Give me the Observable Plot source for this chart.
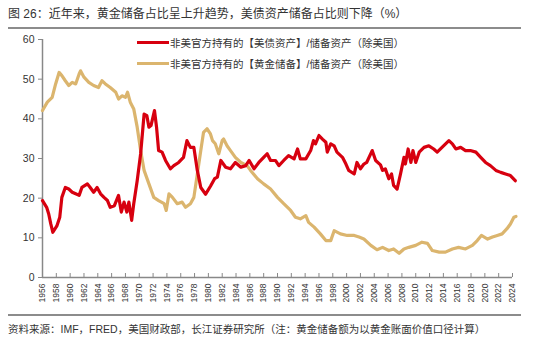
<!DOCTYPE html>
<html><head><meta charset="utf-8">
<script src="https://cdn.jsdelivr.net/npm/d3@7"></script>
<script src="https://cdn.jsdelivr.net/npm/@observablehq/plot@0.6"></script>
<style>
body{margin:0;background:#fff;}
#wrap{position:relative;width:535px;height:338px;overflow:hidden;font-family:"Liberation Sans","Noto Sans CJK SC",sans-serif;color:#333;}
#title{position:absolute;left:8px;top:6px;font-size:12px;white-space:nowrap;line-height:16px;}
#trule{position:absolute;left:8px;top:27px;width:513px;height:2px;background:#8c8c8c;}
#chart{position:absolute;left:0;top:30px;}
#legend{position:absolute;left:137px;top:32px;font-size:10.5px;}
.li{display:flex;align-items:center;height:21px;white-space:nowrap;}
.sw{width:32px;height:3px;margin-right:1px;}
#frule{position:absolute;left:8px;top:314px;width:513px;height:1.5px;background:#8c8c8c;}
#source{position:absolute;left:8px;top:322px;font-size:10.5px;white-space:nowrap;line-height:15px;}
</style>
</head><body>
<div id="wrap">
<div id="title">图 26：近年来，黄金储备占比呈上升趋势，美债资产储备占比则下降（%）</div>
<div id="trule"></div>
<div id="chart"></div>
<div id="legend"></div>
<div id="frule"></div>
<div id="source">资料来源：IMF，FRED，美国财政部，长江证券研究所（注：黄金储备额为以黄金账面价值口径计算）</div>
</div>
<script>
const seriesNames = ["非美官方持有的【美债资产】/储备资产（除美国）", "非美官方持有的【黄金储备】/储备资产（除美国）"];
const seriesColors = ["#d7000f", "#dbb56e"];
const xTicks = d3.range(1956, 2025, 2);
const yTicks = [0, 10, 20, 30, 40, 50, 60];

const redYears = [1956.0,1956.6,1956.9,1957.2,1957.5,1958.1,1958.5,1958.8,1959.3,1959.8,1960.3,1960.8,1961.3,1961.7,1962.5,1962.9,1963.4,1963.9,1964.4,1964.9,1965.4,1965.8,1966.4,1967.0,1967.4,1967.8,1968.2,1968.5,1968.9,1969.2,1969.7,1970.2,1970.7,1971.1,1971.4,1971.7,1972.2,1972.5,1972.8,1973.3,1973.8,1974.5,1975.0,1975.7,1976.4,1976.9,1977.4,1977.9,1978.4,1978.9,1979.6,1980.3,1980.9,1981.3,1981.8,1982.5,1983.2,1983.9,1984.7,1985.4,1985.9,1986.6,1987.3,1988.0,1988.5,1989.0,1989.7,1990.2,1990.9,1991.6,1992.4,1992.9,1993.3,1994.1,1994.8,1995.2,1995.5,1996.0,1996.5,1997.0,1997.2,1997.7,1998.2,1998.6,1999.4,1999.9,2000.3,2001.1,2001.5,2002.0,2002.5,2002.9,2003.7,2004.2,2004.9,2005.2,2005.6,2006.1,2006.5,2006.8,2007.3,2007.8,2008.3,2008.5,2008.9,2009.3,2009.6,2010.0,2010.5,2011.2,2011.9,2012.6,2013.1,2013.8,2014.8,2015.3,2015.8,2016.5,2017.2,2017.9,2018.7,2019.4,2020.1,2020.8,2021.6,2022.3,2023.0,2023.7,2024.4];
const redValues = [19.4,17.7,16.0,13.5,11.4,13.1,15.2,20.2,22.7,22.3,21.5,21.1,20.7,22.7,23.6,22.7,21.5,22.7,21.1,20.2,19.4,17.7,18.1,20.7,16.5,19.0,16.5,19.0,14.4,18.6,24.4,31.2,41.2,40.8,37.9,38.3,42.1,37.9,32.0,31.6,29.5,27.4,28.2,29.0,30.3,34.5,32.8,32.8,27.0,22.7,21.0,23.0,24.9,25.3,29.5,27.8,27.4,29.0,27.8,28.2,29.5,27.4,29.0,30.3,31.2,29.5,29.5,28.2,29.5,30.7,29.9,32.4,29.9,29.9,32.0,34.5,33.7,35.8,34.9,34.1,31.6,33.7,33.2,31.6,30.3,28.6,27.0,26.1,29.0,27.4,28.6,29.0,32.0,29.5,28.4,27.0,27.4,24.9,26.1,23.2,22.3,26.1,30.3,28.6,32.4,29.0,32.0,29.0,31.6,32.8,33.2,32.4,31.6,32.8,34.5,33.7,32.4,32.8,32.0,32.0,31.6,30.3,29.0,28.2,27.0,26.5,26.1,25.7,24.4];

const goldYears = [1956.0,1956.7,1957.4,1957.9,1958.4,1958.8,1959.3,1959.8,1960.3,1960.8,1961.3,1961.5,1962.0,1962.7,1963.4,1964.1,1964.6,1965.1,1965.8,1966.6,1967.0,1967.5,1968.0,1968.3,1968.7,1969.2,1969.7,1970.2,1970.7,1971.4,1972.1,1972.8,1973.6,1973.9,1974.3,1974.8,1975.5,1976.2,1976.7,1977.4,1977.9,1978.4,1978.9,1979.3,1979.8,1980.3,1980.6,1981.0,1981.5,1982.0,1982.2,1982.7,1983.2,1983.9,1984.7,1985.6,1986.1,1987.1,1988.0,1989.0,1990.0,1990.9,1991.9,1992.6,1993.3,1994.1,1994.5,1995.3,1996.2,1997.0,1997.7,1998.2,1999.1,2000.1,2001.1,2001.8,2002.5,2003.5,2004.4,2005.2,2006.1,2006.8,2007.6,2008.3,2009.0,2010.0,2010.9,2011.7,2012.4,2013.4,2014.3,2015.3,2016.2,2017.2,2018.2,2018.9,2019.5,2020.4,2021.1,2021.8,2022.5,2023.2,2023.7,2024.2,2024.5];
const goldValues = [42.1,44.2,45.4,48.8,51.7,50.9,49.6,48.4,49.2,48.8,51.3,52.1,50.5,49.2,48.4,47.9,49.6,48.8,47.9,46.7,45.0,45.8,45.4,46.7,44.2,42.5,37.9,32.0,27.0,23.6,20.2,19.4,18.6,16.9,21.1,20.2,18.6,19.0,17.7,18.6,20.2,26.1,32.0,36.6,37.5,36.2,34.5,33.7,31.2,34.5,34.9,33.2,32.0,30.3,29.0,28.2,27.0,24.9,23.6,22.3,20.2,18.6,16.9,15.2,14.8,15.6,13.9,12.7,11.0,9.3,9.3,11.8,11.0,10.6,10.6,10.2,9.7,8.1,7.0,7.6,6.8,7.2,6.1,7.2,7.6,8.1,8.9,8.6,6.8,6.4,6.4,7.2,7.6,7.2,8.1,9.3,10.6,9.7,10.2,10.6,11.0,12.3,13.5,15.2,15.4];

const redRows = redYears.map((y, i) => ({year: y, value: redValues[i]}));
const goldRows = goldYears.map((y, i) => ({year: y, value: goldValues[i]}));

const plot = Plot.plot({
  width: 535, height: 285,
  marginTop: 9, marginBottom: 38, marginLeft: 42, marginRight: 23,
  x: {domain: [xTicks[0], xTicks[xTicks.length - 1]]},
  y: {domain: [yTicks[0], yTicks[yTicks.length - 1]]},
  style: {fontFamily: "Liberation Sans, Noto Sans CJK SC, sans-serif", color: "#333", background: "transparent"},
  marks: [
    Plot.axisY({ticks: yTicks, tickSize: 4, tickPadding: 4, fontSize: 10.5, label: null, stroke: "#888", fill: "#333"}),
    Plot.axisX({ticks: xTicks, tickSize: -4, tickPadding: 10, tickRotate: -90, fontSize: 8.5, label: null, tickFormat: "d", stroke: "#888", fill: "#333"}),
    Plot.ruleY([yTicks[0]], {stroke: "#888", strokeWidth: 1.5}),
    Plot.ruleX([xTicks[0]], {stroke: "#888", strokeWidth: 1.5}),
    Plot.line(goldRows, {x: "year", y: "value", stroke: seriesColors[1], strokeWidth: 3.2}),
    Plot.line(redRows, {x: "year", y: "value", stroke: seriesColors[0], strokeWidth: 3.2})
  ]
});
document.getElementById("chart").appendChild(plot);

const legend = document.getElementById("legend");
seriesNames.forEach((n, i) => {
  const row = document.createElement("div");
  row.className = "li";
  const sw = document.createElement("span");
  sw.className = "sw";
  sw.style.background = seriesColors[i];
  const t = document.createElement("span");
  t.textContent = n;
  row.appendChild(sw); row.appendChild(t);
  legend.appendChild(row);
});
</script>
</body></html>
